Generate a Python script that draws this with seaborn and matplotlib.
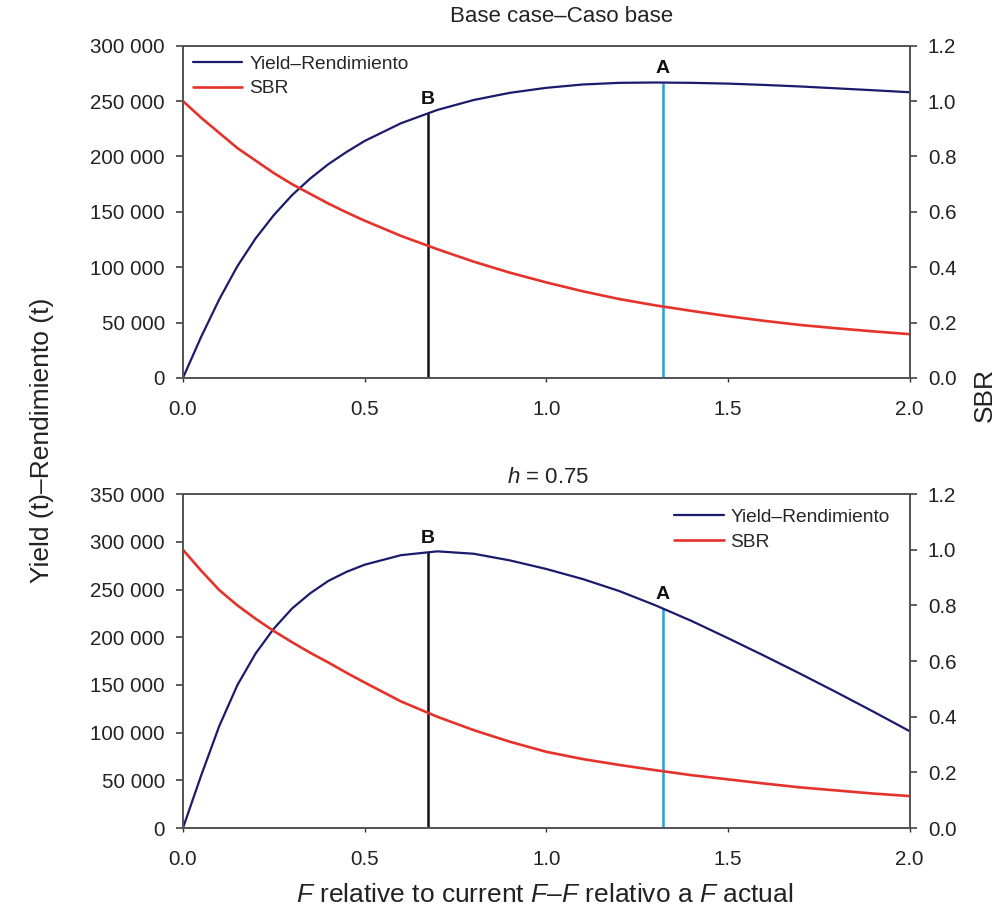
import numpy as np
import pandas as pd
import matplotlib
matplotlib.use("Agg")
import matplotlib.pyplot as plt
from matplotlib.ticker import FuncFormatter, MultipleLocator
import seaborn as sns

# ---------------- data ----------------
f_rel = [0, 0.05, 0.1, 0.15, 0.2, 0.25, 0.3, 0.35, 0.4, 0.45, 0.5, 0.6, 0.7,
         0.8, 0.9, 1.0, 1.1, 1.2, 1.3, 1.4, 1.5, 1.6, 1.7, 1.8, 1.9, 2.0]

base_yield = [0, 37000, 71000, 101000, 126000, 147000, 165000, 180000, 193000,
              204000, 214000, 230000, 242000, 251000, 257500, 262000, 265000,
              266500, 266800, 266500, 265800, 264600, 263200, 261500, 259800,
              258000]
base_sbr = [1.0, 0.94, 0.885, 0.83, 0.785, 0.74, 0.70, 0.665, 0.63, 0.598,
            0.568, 0.513, 0.465, 0.42, 0.38, 0.345, 0.313, 0.285, 0.262,
            0.242, 0.223, 0.206, 0.191, 0.179, 0.168, 0.158]

h75_yield = [0, 55000, 107000, 150000, 183000, 209000, 230000, 246000, 259000,
             268500, 276000, 286000, 290000, 287500, 280500, 271500, 261000,
             248500, 233500, 217000, 199000, 180500, 161500, 142000, 122000,
             101500]
h75_sbr = [1.0, 0.925, 0.855, 0.80, 0.752, 0.708, 0.668, 0.63, 0.595, 0.558,
           0.523, 0.455, 0.40, 0.352, 0.31, 0.274, 0.248, 0.227, 0.208, 0.19,
           0.175, 0.16, 0.146, 0.135, 0.124, 0.115]

ref_labels = ["B", "A"]
ref_f = [0.674, 1.32]
ref_colors = ["#111111", "#2a9fd6"]

panel_titles = ["Base case\u2013Caso base", "$h$ = 0.75"]
title_x = [0.521, 0.503]
series_names = ["Yield\u2013Rendimiento", "SBR"]
left_ylims = [(0, 300000), (0, 350000)]

# ---------------- style ----------------
sns.set_theme(style="white")
plt.rcParams["font.family"] = ["Liberation Sans", "DejaVu Sans"]
plt.rcParams["mathtext.fontset"] = "custom"
plt.rcParams["mathtext.it"] = "Liberation Sans:italic"
plt.rcParams["mathtext.rm"] = "Liberation Sans"

YIELD_C = "#1b1b6b"
SBR_C = "#e5322b"
SPINE_C = "#555555"
FS = 14.8
TXT = "#222222"

fig = plt.figure(figsize=(10.03, 9.15), dpi=100)
ax_top = fig.add_axes([0.1824, 0.587, 0.7246, 0.363])
ax_bot = fig.add_axes([0.1824, 0.095, 0.7246, 0.365])

panels = [
    (ax_top, base_yield, base_sbr, "upper left", (0.0, 1.0)),
    (ax_bot, h75_yield, h75_sbr, "upper right", (0.986, 0.985)),
]

thousands = FuncFormatter(lambda v, p: f"{int(round(v)):,}".replace(",", " "))

for i, (ax, yld, sbr, legloc, bb) in enumerate(panels):
    df = pd.DataFrame({"F": f_rel, "Yield": yld, "SBR": sbr})
    sns.lineplot(data=df, x="F", y="Yield", ax=ax, color=YIELD_C, lw=1.6,
                 legend=False, label=series_names[0])
    ax2 = ax.twinx()
    sns.lineplot(data=df, x="F", y="SBR", ax=ax2, color=SBR_C, lw=1.9,
                 legend=False, label=series_names[1])

    # reference lines B and A rising up to the yield curve
    for lab, fx, c in zip(ref_labels, ref_f, ref_colors):
        top = np.interp(fx, f_rel, yld)
        ax.vlines(fx, 0, top, color=c, lw=1.8, zorder=1)
        ax.annotate(lab, (fx, top), xytext=(0, 4), textcoords="offset points",
                    ha="center", va="bottom", fontsize=14, fontweight="bold",
                    color="#111111")

    ax.set_xlim(0, 2.0)
    ax.set_ylim(*left_ylims[i])
    ax2.set_ylim(0, 1.2)
    ax.xaxis.set_major_locator(MultipleLocator(0.5))
    ax.yaxis.set_major_locator(MultipleLocator(50000))
    ax2.yaxis.set_major_locator(MultipleLocator(0.2))
    ax.xaxis.set_major_formatter(FuncFormatter(lambda v, p: f"{v:.1f}"))
    ax.yaxis.set_major_formatter(thousands)
    ax2.yaxis.set_major_formatter(FuncFormatter(lambda v, p: f"{v:.1f}"))
    ax.set_xlabel("")
    ax.set_ylabel("")
    ax2.set_ylabel("")

    for a in (ax, ax2):
        for s in a.spines.values():
            s.set_color(SPINE_C)
            s.set_linewidth(1.3)
    ax.tick_params(axis="y", which="major", direction="out", length=5,
                   width=1.1, color="#333333", pad=8, labelsize=FS,
                   labelcolor=TXT, left=True)
    ax.tick_params(axis="x", which="major", direction="out", length=3,
                   width=1.0, color="#333333", pad=13, labelsize=FS,
                   labelcolor=TXT, bottom=True)
    ax2.tick_params(axis="y", which="major", direction="out", length=5,
                    width=1.1, color="#333333", pad=8, labelsize=FS,
                    labelcolor=TXT, right=True)

    pad = 17 if i == 0 else 8
    ax.set_title(panel_titles[i], fontsize=16, color=TXT, pad=pad,
                 x=title_x[i])

    handles = [ax.get_lines()[0], ax2.get_lines()[0]]
    ax2.legend(handles, series_names, loc=legloc, bbox_to_anchor=bb,
               frameon=False, fontsize=13.8, handlelength=2.6,
               handletextpad=0.35, labelspacing=0.38, borderaxespad=0.3,
               borderpad=0.2)

fig.text(0.042, 0.519, "Yield (t)\u2013Rendimiento (t)", rotation=90,
         ha="center", va="center", fontsize=19, color=TXT)
fig.text(0.982, 0.568, "SBR", rotation=90, ha="center", va="center",
         fontsize=19, color=TXT)
fig.text(0.543, 0.022,
         "$F$ relative to current $F$\u2013$F$ relativo a $F$ actual",
         ha="center", va="center", fontsize=19, color=TXT)

fig.savefig("out.png", dpi=100)
